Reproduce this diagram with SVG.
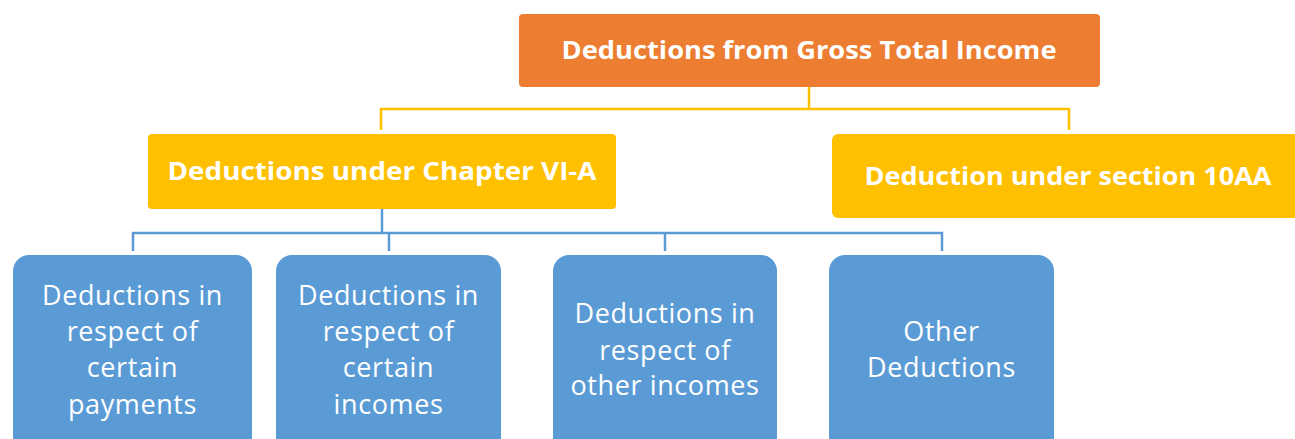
<svg xmlns="http://www.w3.org/2000/svg" width="1295" height="439" viewBox="0 0 1295 439">
<style>
.top{fill:#ED7D31}
.yel{fill:#FFC000}
.blu{fill:#5B9BD5}
.bt{font-family:"Open Sans","DejaVu Sans",sans-serif;font-weight:700;fill:#fff;text-anchor:middle}
.rt{font-family:"Open Sans","DejaVu Sans",sans-serif;font-weight:400;fill:#fff;text-anchor:middle;font-size:27px;letter-spacing:0.6px}
.cy{stroke:#FFC000;stroke-width:2.5;fill:none}
.cb{stroke:#5B9BD5;stroke-width:2.5;fill:none}
</style>
<rect width="1295" height="439" fill="#fff"/>
<g id="connectors">
<path class="cy" d="M809 87V109M381 130V109H1069V130"/>
<path class="cb" d="M382 209V233" stroke-width="3.5"/>
<path class="cb" d="M133 251V233H942V251M389 233V251M665 233V251"/>
</g>
<g id="n0">
<rect class="top" x="519" y="14" width="581" height="73" rx="4"/>
<text class="bt" x="809" y="59" font-size="25" textLength="495" lengthAdjust="spacingAndGlyphs">Deductions from Gross Total Income</text>
</g>
<g id="n1">
<rect class="yel" x="148" y="134" width="468" height="75" rx="4"/>
<text class="bt" x="382" y="180" font-size="25" textLength="429" lengthAdjust="spacingAndGlyphs">Deductions under Chapter VI-A</text>
</g>
<g id="n2">
<rect class="yel" x="832" y="134" width="475" height="84" rx="6"/>
<text class="bt" x="1068" y="185" font-size="25" textLength="407" lengthAdjust="spacingAndGlyphs">Deduction under section 10AA</text>
</g>
<g id="n3">
<rect class="blu" x="13" y="255" width="239" height="200" rx="16"/>
<text class="rt" x="132.5" y="305">Deductions in</text>
<text class="rt" x="132.5" y="341">respect of</text>
<text class="rt" x="132.5" y="377">certain</text>
<text class="rt" x="132.5" y="414">payments</text>
</g>
<g id="n4">
<rect class="blu" x="276" y="255" width="225" height="200" rx="16"/>
<text class="rt" x="388.5" y="305">Deductions in</text>
<text class="rt" x="388.5" y="341">respect of</text>
<text class="rt" x="388.5" y="377">certain</text>
<text class="rt" x="388.5" y="414">incomes</text>
</g>
<g id="n5">
<rect class="blu" x="553" y="255" width="224" height="200" rx="16"/>
<text class="rt" x="665" y="323">Deductions in</text>
<text class="rt" x="665" y="360">respect of</text>
<text class="rt" x="665" y="395">other incomes</text>
</g>
<g id="n6">
<rect class="blu" x="829" y="255" width="225" height="200" rx="16"/>
<text class="rt" x="941.5" y="341">Other</text>
<text class="rt" x="941.5" y="377">Deductions</text>
</g>
</svg>
